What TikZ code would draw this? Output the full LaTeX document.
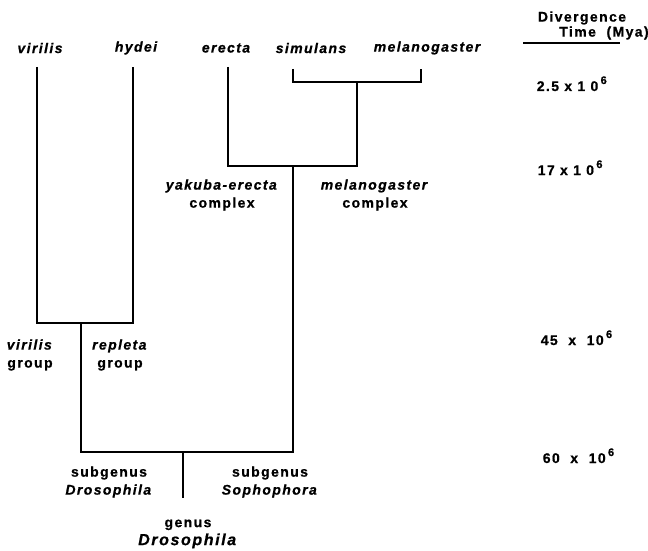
\documentclass[tikz,border=0pt]{standalone}
\usepackage{fontspec}
\setmainfont{Liberation Sans}[LetterSpace=10,FakeBold=0.7]

\begin{document}
\begin{tikzpicture}[x=1pt,y=-1pt,line width=1.6pt,
        taxon node/.style={font=\bfseries\itshape\fontsize{14}{18}\selectfont,inner sep=0pt},
        group node/.style={font=\bfseries\fontsize{14}{18}\selectfont,align=center,inner sep=0pt},
        time node/.style={font=\bfseries\fontsize{14}{15}\selectfont,inner sep=0pt,anchor=base west}]

        \useasboundingbox (0,0) rectangle (648,551);

        % Define taxa
        \node[taxon node] (virilis) at (40,48) {virilis};
        \node[taxon node] (hydei) at (136,48) {hydei};
        \node[taxon node] (erecta) at (226,48) {erecta};
        \node[taxon node] (simulans) at (311,48) {simulans};
        \node[taxon node] (melanogaster) at (427,48) {melanogaster};

        % Define groups
        \node[group node] (yakuba) at (222,195) {\textit{yakuba-erecta}\\complex};
        \node[group node] (melcomplex) at (375,195) {\textit{melanogaster}\\complex};
        \node[group node] (virgroup) at (30,355) {\textit{virilis}\\group};
        \node[group node] (repgroup) at (120,355) {\textit{repleta}\\group};
        \node[group node] (drosub) at (109,482) {subgenus\\\textit{Drosophila}};
        \node[group node] (sophsub) at (270,482) {subgenus\\\textit{Sophophora}};
        \node[group node] (genus) at (188,534) {genus\\{\fontsize{16}{18}\selectfont\textit{Drosophila}}};

        % Define time scale
        \node[group node] (divergence) at (582,18) {Divergence};
        \node[group node] (timehead) at (604,33) {Time\ \ (Mya)};
        \coordinate (ruleL) at (523,43);
        \coordinate (ruleR) at (620,43);
        \node[time node] (t1) at (536,91) {2.5 x 1 0\,\raisebox{7pt}{\fontsize{11}{11}\selectfont 6}};
        \node[time node] (t2) at (537,175) {17 x 1 0\,\raisebox{7pt}{\fontsize{11}{11}\selectfont 6}};
        \node[time node] (t3) at (540,345) {45\ \ x\ \ 10\,\raisebox{7pt}{\fontsize{11}{11}\selectfont 6}};
        \node[time node] (t4) at (542,463) {60\ \ x\ \ 10\,\raisebox{7pt}{\fontsize{11}{11}\selectfont 6}};

        % Define branch points
        \coordinate (virT) at (37,67);
        \coordinate (hydT) at (133,67);
        \coordinate (ereT) at (228,67);
        \coordinate (simT) at (293,69);
        \coordinate (melT) at (421,69);
        \coordinate (sm) at (357,82);
        \coordinate (soph) at (293,166);
        \coordinate (vh) at (81,323);
        \coordinate (root) at (183,452);
        \coordinate (rootB) at (183,498);

        % Draw branches
        \draw (virT) |- (vh) -| (hydT);
        \draw (simT) |- (sm) -| (melT);
        \draw (ereT) |- (soph) -| (sm);
        \draw (vh) |- (root) -| (soph);
        \draw (root) -- (rootB);
        \draw (ruleL) -- (ruleR);

\end{tikzpicture}
\end{document}
